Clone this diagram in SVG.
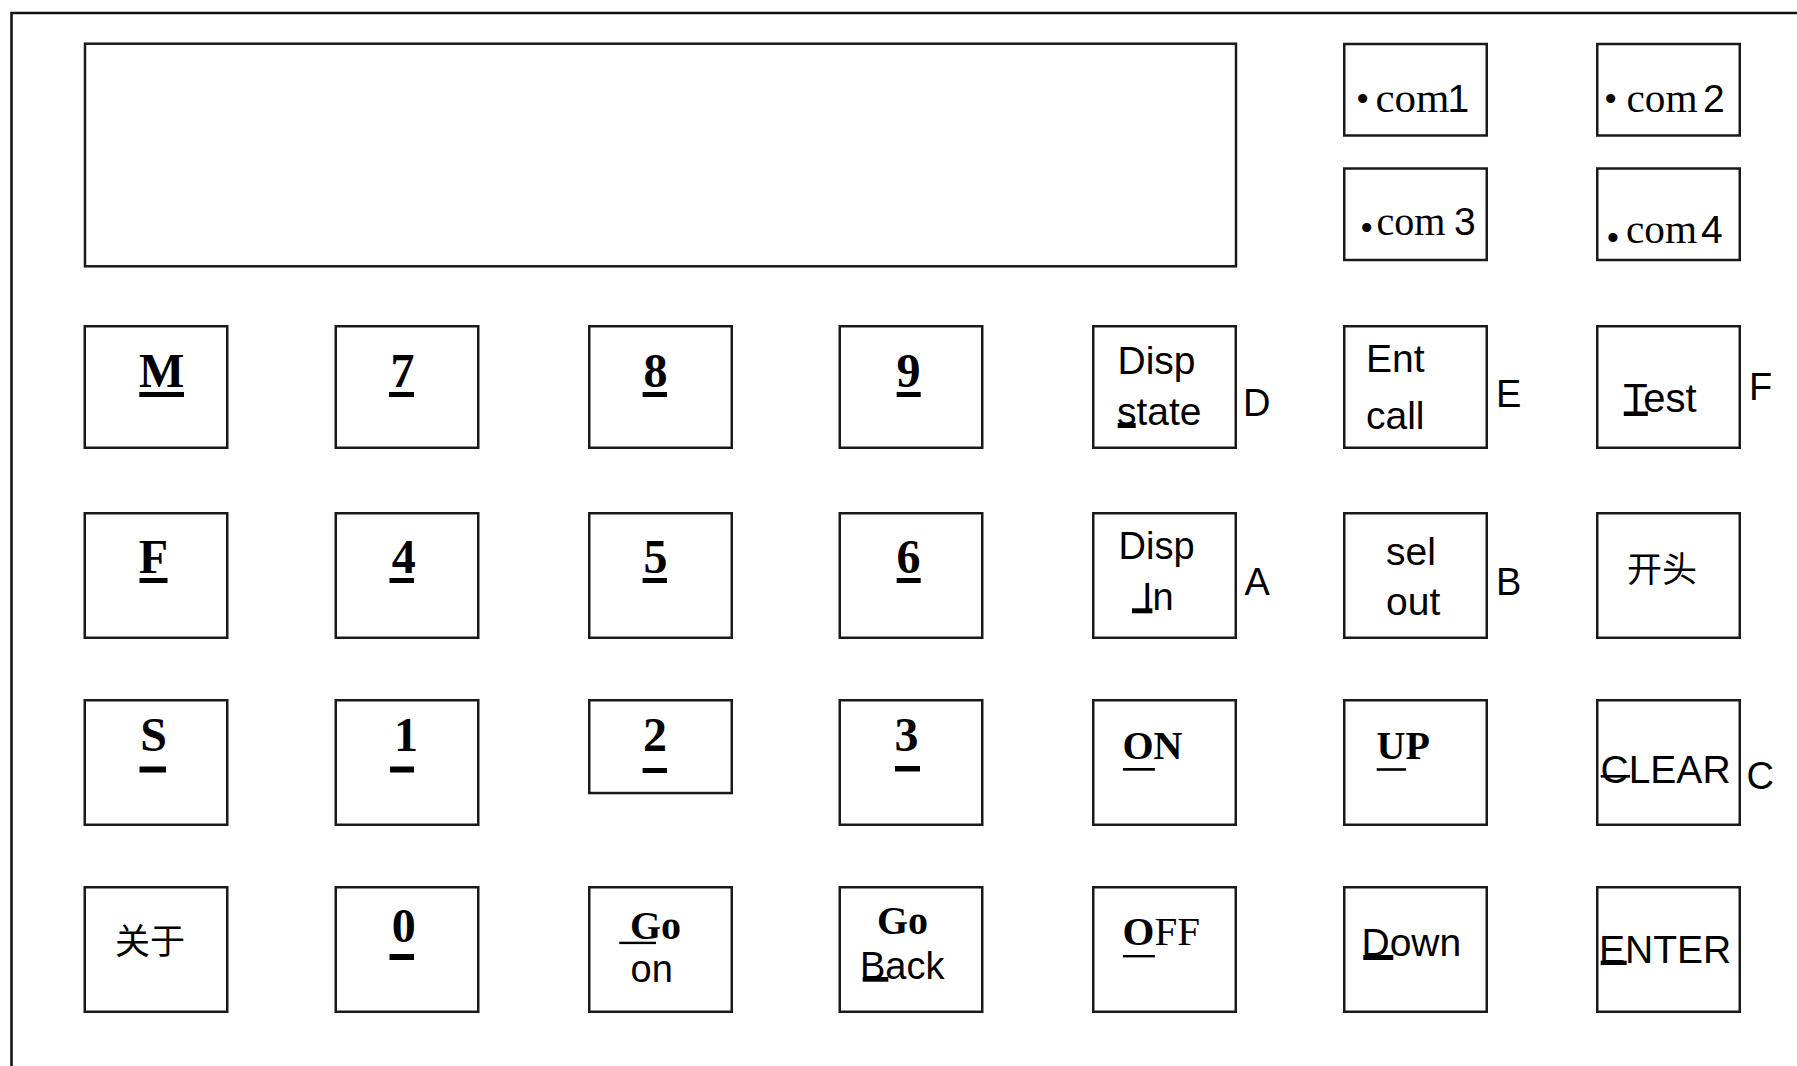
<svg xmlns="http://www.w3.org/2000/svg" width="1797" height="1066" viewBox="0 0 1797 1066">
<style>
.box{fill:#fff;stroke:#1a1a1a;stroke-width:2.5}
.tb{font-family:"Liberation Serif","Times New Roman",serif;font-weight:bold;fill:#000}
.tr{font-family:"Liberation Serif","Times New Roman",serif;fill:#000}
.ar{font-family:"Liberation Sans",Arial,sans-serif;fill:#000}
.cjk{font-family:"Liberation Sans","Noto Sans CJK SC",sans-serif;fill:#000}
.ul{fill:#000}
.d48{font-size:48px}
.s39{font-size:39px}
.s38{font-size:38px}
.s40{font-size:40px}
.c{text-anchor:middle}
.cm{font-size:41px}
.cd{font-size:39px}
</style>
<rect x="0" y="0" width="1797" height="1066" fill="#fff"/>
<path d="M11.5,1066 V13 H1797" fill="none" stroke="#111" stroke-width="2.5"/>

<g id="display"><rect class="box" x="85" y="43.7" width="1151" height="222.6"/></g>

<g id="com1"><rect class="box" x="1344.25" y="44" width="142.5" height="91.5"/>
<text class="tr" x="1356" y="112" font-size="38">•</text>
<text class="tr cm" x="1375.5" y="111.7" textLength="74" lengthAdjust="spacingAndGlyphs">com</text>
<text class="ar cd" x="1447.5" y="111.7">1</text></g>
<g id="com2"><rect class="box" x="1597.25" y="44" width="142.5" height="91.5"/>
<text class="tr" x="1604" y="112" font-size="38">•</text>
<text class="tr cm" x="1626.5" y="111.7" textLength="71" lengthAdjust="spacingAndGlyphs">com</text>
<text class="ar cd" x="1703" y="111.7">2</text></g>
<g id="com3"><rect class="box" x="1344.25" y="168.5" width="142.5" height="91.5"/>
<text class="tr" x="1360" y="241" font-size="38">•</text>
<text class="tr cm" x="1376.5" y="235" textLength="69" lengthAdjust="spacingAndGlyphs">com</text>
<text class="ar cd" x="1454" y="235">3</text></g>
<g id="com4"><rect class="box" x="1597.25" y="168.5" width="142.5" height="91.5"/>
<text class="tr" x="1606.3" y="251" font-size="38">•</text>
<text class="tr cm" x="1626" y="243" textLength="71" lengthAdjust="spacingAndGlyphs">com</text>
<text class="ar cd" x="1701" y="243">4</text></g>

<!-- Row 1 -->
<g id="key-M"><rect class="box" x="84.75" y="326.25" width="142.5" height="121.5"/>
<text class="tb d48 c" x="161.6" y="387">M</text><rect class="ul" x="139.3" y="392" width="44.7" height="5"/></g>
<g id="key-7"><rect class="box" x="335.75" y="326.25" width="142.5" height="121.5"/>
<text class="tb d48 c" x="402.5" y="387">7</text><rect class="ul" x="389" y="392" width="25" height="5"/></g>
<g id="key-8"><rect class="box" x="589.25" y="326.25" width="142.5" height="121.5"/>
<text class="tb d48 c" x="655.5" y="387">8</text><rect class="ul" x="642.6" y="392" width="24.4" height="5"/></g>
<g id="key-9"><rect class="box" x="839.75" y="326.25" width="142.5" height="121.5"/>
<text class="tb d48 c" x="908.4" y="387">9</text><rect class="ul" x="896.7" y="392" width="24" height="5"/></g>
<g id="key-D"><rect class="box" x="1093.25" y="326.25" width="142.5" height="121.5"/>
<text class="ar s39" x="1117.5" y="374">Disp</text>
<text class="ar s39" x="1117" y="425">state</text><rect class="ul" x="1117.7" y="423" width="18" height="5"/>
<text class="ar s38" x="1243" y="416">D</text></g>
<g id="key-E"><rect class="box" x="1344.25" y="326.25" width="142.5" height="121.5"/>
<text class="ar s39" x="1366" y="371.7">Ent</text>
<text class="ar s39" x="1366" y="429.3">call</text>
<text class="ar s38" x="1496" y="406.7">E</text></g>
<g id="key-F"><rect class="box" x="1597.25" y="326.25" width="142.5" height="121.5"/>
<text class="ar s40" x="1623.3" y="411.7">Test</text><rect class="ul" x="1623.8" y="411.5" width="24" height="4.5"/>
<text class="ar s38" x="1749" y="400">F</text></g>

<!-- Row 2 -->
<g id="key-Fn"><rect class="box" x="84.75" y="513.25" width="142.5" height="124.5"/>
<text class="tb d48 c" x="153.4" y="573">F</text><rect class="ul" x="139.5" y="578" width="28" height="5"/></g>
<g id="key-4"><rect class="box" x="335.75" y="513.25" width="142.5" height="124.5"/>
<text class="tb d48 c" x="403.8" y="573">4</text><rect class="ul" x="389.5" y="578" width="24.5" height="5"/></g>
<g id="key-5"><rect class="box" x="589.25" y="513.25" width="142.5" height="124.5"/>
<text class="tb d48 c" x="655.5" y="573">5</text><rect class="ul" x="642.6" y="578" width="24.4" height="5"/></g>
<g id="key-6"><rect class="box" x="839.75" y="513.25" width="142.5" height="124.5"/>
<text class="tb d48 c" x="908.4" y="573">6</text><rect class="ul" x="896.7" y="578" width="24" height="5"/></g>
<g id="key-A"><rect class="box" x="1093.25" y="513.25" width="142.5" height="124.5"/>
<text class="ar s38" x="1118.5" y="559.3">Disp</text>
<text class="ar s38" x="1142" y="610">In</text><rect class="ul" x="1132" y="608.3" width="20.4" height="5"/>
<text class="ar s38" x="1244.5" y="595">A</text></g>
<g id="key-B"><rect class="box" x="1344.25" y="513.25" width="142.5" height="124.5"/>
<text class="ar s39" x="1386" y="565">sel</text>
<text class="ar s39" x="1386" y="615">out</text>
<text class="ar s38" x="1496" y="595">B</text></g>
<g id="key-start"><rect class="box" x="1597.25" y="513.25" width="142.5" height="124.5"/>
<text class="cjk" x="1627" y="582" font-size="35">开头</text></g>

<!-- Row 3 -->
<g id="key-S"><rect class="box" x="84.75" y="700.25" width="142.5" height="124.5"/>
<text class="tb d48 c" x="153.5" y="750.5">S</text><rect class="ul" x="139.5" y="766.5" width="26.5" height="6"/></g>
<g id="key-1"><rect class="box" x="335.75" y="700.25" width="142.5" height="124.5"/>
<text class="tb d48 c" x="406" y="750.5">1</text><rect class="ul" x="390" y="766.5" width="24" height="6"/></g>
<g id="key-2"><rect class="box" x="589.25" y="700.25" width="142.5" height="92.8"/>
<text class="tb d48 c" x="655" y="750.5">2</text><rect class="ul" x="642.6" y="768" width="24.4" height="5"/></g>
<g id="key-3"><rect class="box" x="839.75" y="700.25" width="142.5" height="124.5"/>
<text class="tb d48 c" x="906.5" y="750.5">3</text><rect class="ul" x="895" y="766" width="25" height="5.5"/></g>
<g id="key-ON"><rect class="box" x="1093.25" y="700.25" width="142.5" height="124.5"/>
<text class="tb s40" x="1122.5" y="759.3">ON</text><rect class="ul" x="1122.9" y="768" width="32" height="2.7"/></g>
<g id="key-UP"><rect class="box" x="1344.25" y="700.25" width="142.5" height="124.5"/>
<text class="tb s40" x="1376.5" y="759.3">UP</text><rect class="ul" x="1376.7" y="768.2" width="29.3" height="2.6"/></g>
<g id="key-C"><rect class="box" x="1597.25" y="700.25" width="142.5" height="124.5"/>
<text class="ar s39" x="1600.5" y="783.3">CLEAR</text><rect class="ul" x="1600.7" y="775" width="29.3" height="2.6"/>
<text class="ar s38" x="1746.5" y="789.3">C</text></g>

<!-- Row 4 -->
<g id="key-about"><rect class="box" x="84.75" y="887.25" width="142.5" height="124.5"/>
<text class="cjk" x="115" y="954" font-size="35">关于</text></g>
<g id="key-0"><rect class="box" x="335.75" y="887.25" width="142.5" height="124.5"/>
<text class="tb d48 c" x="403.8" y="941.7">0</text><rect class="ul" x="389.5" y="954" width="24.5" height="6"/></g>
<g id="key-goon"><rect class="box" x="589.25" y="887.25" width="142.5" height="124.5"/>
<text class="tb s40" x="630" y="939">Go</text><rect class="ul" x="619.3" y="941.7" width="36.7" height="2.4" fill="#333"/>
<text class="ar s38" x="630.5" y="981.7">on</text></g>
<g id="key-goback"><rect class="box" x="839.75" y="887.25" width="142.5" height="124.5"/>
<text class="tb s40" x="877" y="934">Go</text>
<text class="ar s38" x="860" y="979">Back</text><rect class="ul" x="862.7" y="977" width="25.6" height="4.7"/></g>
<g id="key-OFF"><rect class="box" x="1093.25" y="887.25" width="142.5" height="124.5"/>
<text class="tr" x="1122.5" y="945" font-size="41"><tspan font-weight="bold">O</tspan>FF</text><rect class="ul" x="1122.9" y="955" width="32" height="2.4"/></g>
<g id="key-Down"><rect class="box" x="1344.25" y="887.25" width="142.5" height="124.5"/>
<text class="ar s39" x="1361.5" y="956">Down</text><rect class="ul" x="1363.3" y="955" width="30" height="5"/></g>
<g id="key-ENTER"><rect class="box" x="1597.25" y="887.25" width="142.5" height="124.5"/>
<text class="ar s39" x="1599" y="962.7">ENTER</text><rect class="ul" x="1600.7" y="960.7" width="26" height="4.3"/></g>
</svg>
